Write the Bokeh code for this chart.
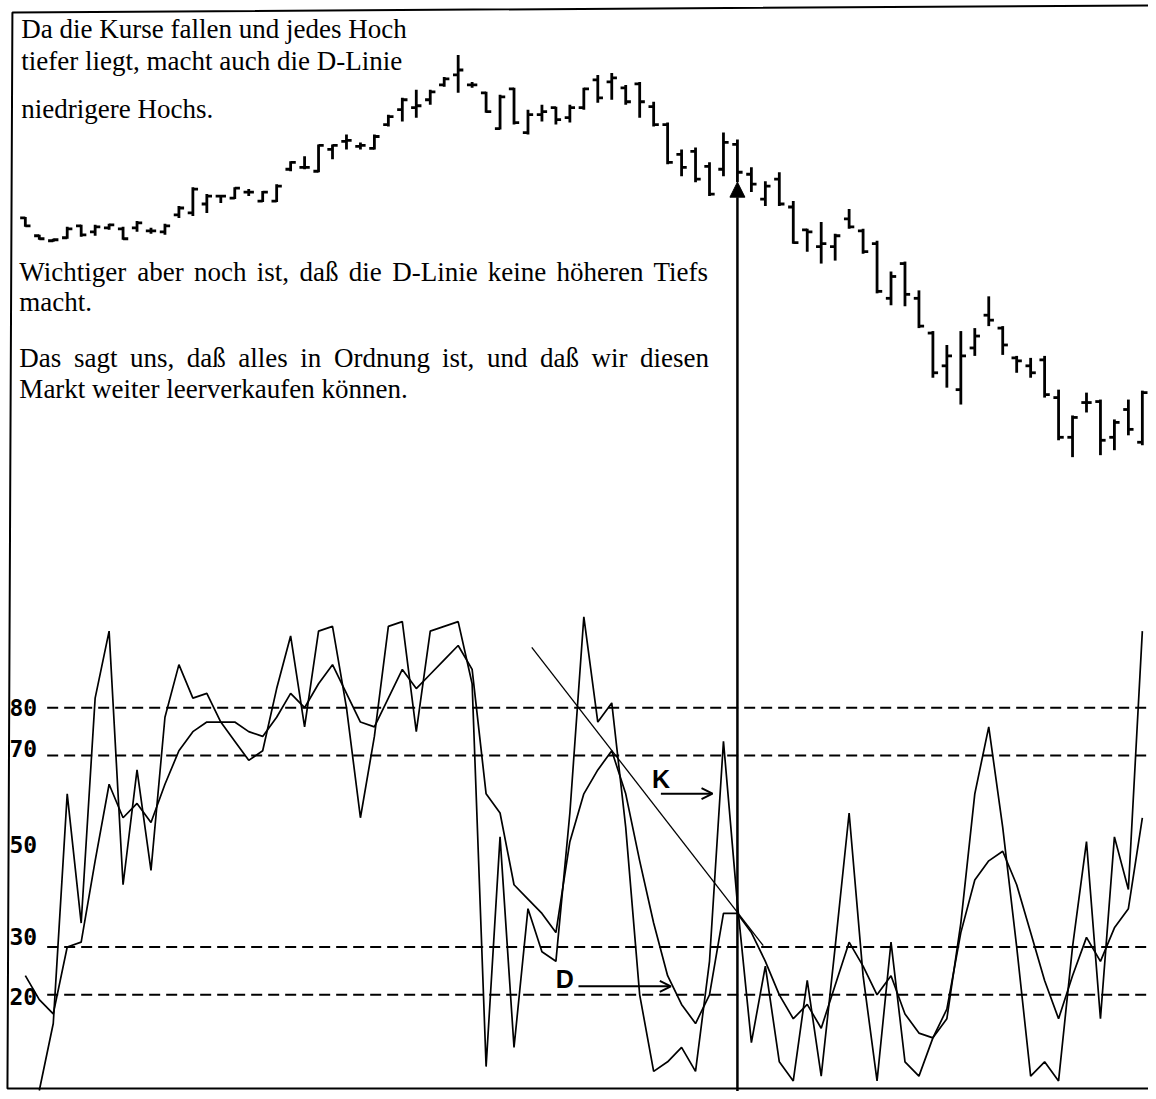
import math
from bokeh.plotting import figure
from bokeh.models import Range1d, Label, Arrow, NormalHead, OpenHead
from bokeh.core.properties import value
from bokeh.embed import file_html
from bokeh.resources import INLINE

nan = float("nan")

# ---------------- data ----------------
days = list(range(81))

high = [282, 264, 260, 272, 274, 274, 275, 272, 278, 271, 275, 293, 312, 305, 304, 312, 310, 308, 315, 338,
        343, 355, 355, 365, 357, 365, 385, 402, 410, 410, 423, 445, 418, 408, 405, 412, 390, 395, 393, 395,
        412, 425, 427, 415, 418, 398, 377, 350, 352, 337, 367, 360, 332, 318, 327,
        298, 270, 277, 265, 290, 270, 258, 227, 237, 208, 167, 153, 167, 170, 202, 172, 142, 140, 142, 108,
        82, 105, 98, 78, 98, 107]
low = [272, 259, 257, 260, 262, 263, 269, 259, 267, 265, 264, 281, 283, 286, 296, 300, 303, 297, 297, 328,
       330, 327, 340, 350, 350, 350, 373, 378, 382, 395, 413, 407, 412, 387, 370, 375, 365, 378, 375, 377,
       390, 397, 400, 395, 382, 373, 335, 323, 317, 303, 323, 317, 307, 293, 293,
       255, 247, 235, 238, 270, 245, 205, 193, 192, 170, 120, 110, 93, 142, 172, 143, 125, 120, 100, 57,
       40, 85, 42, 47, 62, 52]
open_ = [281, 263, 258, 261, 273, 267, 271, 270, 271, 268, 267, 284, 286, 295, 303, 301, 307, 298, 298, 330,
         332, 328, 350, 358, 353, 351, 375, 390, 392, 400, 415, 425, 415, 407, 371, 411, 367, 385, 392, 382,
         392, 420, 418, 412, 416, 393, 375, 345, 348, 333, 330, 355, 325, 300, 320,
         292, 269, 252, 252, 280, 268, 255, 200, 235, 200, 165, 132, 108, 150, 183, 170, 140, 132, 138, 100,
         60, 95, 96, 60, 88, 55]
close = [273, 260, 259, 270, 264, 272, 274, 260, 276, 268, 273, 291, 310, 303, 303, 311, 307, 307, 313, 337,
         332, 354, 354, 359, 354, 363, 383, 400, 394, 408, 421, 430, 415, 388, 403, 377, 385, 388, 380, 392,
         411, 402, 422, 398, 398, 375, 337, 332, 320, 305, 357, 327, 315, 313, 295,
         256, 267, 255, 263, 272, 247, 207, 222, 204, 172, 125, 142, 142, 162, 178, 153, 137, 125, 103, 60,
         80, 95, 57, 75, 68, 105]

k_line = [nan, 0, 14, 62, 35, 82, 96, 43, 67, 46,
          78, 89, 82, 83, 77, 73, 69, 71, 84, 95,
          76, 96, 97, 80, 57, 74, 97, 98, 75, 96,
          97, 98, 85, 5, 53, 9, 38, 29, 27, 58,
          99, 77, 81, 55, 20, 4, 6, 9, 4, 27,
          73, 39, 10, 26, 6, 2, 23, 3, 30, 58,
          24, 2, 31, 6, 3, 11, 15, 35, 62, 76,
          55, 30, 3, 6, 2, 30, 52, 15, 53, 42, 96]
d_line = [24, 19, 16, 30, 31, 48, 64, 57, 60, 56,
          64, 71, 75, 77, 77, 77, 75, 74, 78, 83,
          80, 85, 89, 83, 77, 76, 82, 88, 84, 87,
          90, 93, 88, 62, 58, 43, 40, 37, 33, 52,
          62, 67, 71, 62, 48, 35, 24, 18, 14, 20,
          37, 37, 33, 27, 20, 15, 18, 13, 22, 31,
          26, 20, 24, 16, 12, 11, 17, 33, 44, 48,
          50, 43, 33, 23, 15, 24, 32, 27, 34, 38, 57]

levels = [80, 70, 30, 20]
level_labels = ["80", "70", "50", "30", "20"]
signal_day = 51
trend_days = [36.27, 52.85]
trend_vals = [92.6, 30.3]

top_lines = ["Da die Kurse fallen und jedes Hoch",
             "tiefer liegt, macht auch die D-Linie",
             "niedrigere Hochs."]
low_lines = ["Wichtiger aber noch ist, daß die D-Linie keine höheren Tiefs",
             "macht.",
             "Das sagt uns, daß alles in Ordnung ist, und daß wir diesen",
             "Markt weiter leerverkaufen können."]

# ---------------- layout helpers (reference pixel -> data units) ----------------
def ix(xref):
    return (xref - 25) / 14.06

def py(yref):
    return 500 - yref

def ov(yref):
    return (1098 - yref) / 4.82

W, H = 1148, 1091
x_range = Range1d(ix(0), ix(1156))
y_range = Range1d(ov(1099), ov(0))
price_range = Range1d(py(1099), py(0))

p = figure(width=W, height=H, x_range=x_range, y_range=y_range,
           output_backend="svg", toolbar_location=None,
           x_axis_type=None, y_axis_type=None, min_border=0)
p.extra_y_ranges = {"price": price_range}
p.grid.visible = False
p.outline_line_color = None
p.background_fill_color = "white"
p.border_fill_color = "white"

# frame (slightly skewed like the scanned page)
frame_x = [1156, 12, 7, 1156]
frame_y = [5, 12, 1096, 1096]
p.line([ix(v) for v in frame_x], [py(v) for v in frame_y], y_range_name="price",
       line_color="black", line_width=2)

# ---------------- price bars (OHLC) ----------------
tick = 0.37
p.segment(x0=days, x1=days, y0=low, y1=high, y_range_name="price",
          line_color="black", line_width=2.8)
p.segment(x0=[d - tick for d in days], x1=days, y0=open_, y1=open_, y_range_name="price",
          line_color="black", line_width=2.8)
p.segment(x0=days, x1=[d + tick for d in days], y0=close, y1=close, y_range_name="price",
          line_color="black", line_width=2.8)

# ---------------- oscillator ----------------
p.segment(x0=[ix(47)] * len(levels), x1=[x_range.end] * len(levels), y0=levels, y1=levels,
          line_color="black", line_width=2, line_dash="11 6")
p.line(days, d_line, line_color="black", line_width=1.7)
p.line(days, k_line, line_color="black", line_width=1.7)
p.line(trend_days, trend_vals, line_color="black", line_width=1.3)

label_y = [80, 71.5, 51.5, 32.2, 19.7]
p.text(x=[ix(9)] * len(level_labels), y=label_y, text=level_labels,
       text_font=value("DejaVu Sans Mono"), text_font_style="bold", text_font_size="23px",
       text_baseline="middle", text_align="left", text_color="black")

# signal arrow
p.add_layout(Arrow(end=NormalHead(size=15, fill_color="black", line_color="black", line_width=1),
                   x_start=signal_day, y_start=price_range.start,
                   x_end=signal_day, y_end=low[signal_day],
                   y_range_name="price", line_color="black", line_width=2.5))

# K and D marks
p.add_layout(Label(x=ix(656), y=ov(784), text="K", text_baseline="middle", text_color="black",
                   text_font="Liberation Sans", text_font_style="bold", text_font_size="25px"))
p.add_layout(Arrow(end=OpenHead(size=11, line_width=2, line_color="black"),
                   x_start=ix(665), y_start=ov(799), x_end=ix(717), y_end=ov(799),
                   line_color="black", line_width=2))
p.add_layout(Label(x=ix(559), y=ov(986), text="D", text_baseline="middle", text_color="black",
                   text_font="Liberation Sans", text_font_style="bold", text_font_size="25px"))
p.add_layout(Arrow(end=OpenHead(size=11, line_width=2, line_color="black"),
                   x_start=ix(582), y_start=ov(993), x_end=ix(675), y_end=ov(993),
                   line_color="black", line_width=2))

# ---------------- text ----------------
FS = 27
TNR = {' ': 250, ',': 250, '.': 250, '-': 333, 'a': 444, 'b': 500, 'c': 444, 'd': 500, 'e': 444,
       'f': 333, 'g': 500, 'h': 500, 'i': 278, 'j': 278, 'k': 500, 'l': 278, 'm': 778, 'n': 500,
       'o': 500, 'r': 333, 's': 389, 't': 278, 'u': 500, 'v': 500, 'w': 722, 'ß': 500, 'ö': 500,
       'D': 722, 'L': 611, 'T': 611, 'W': 944, 'O': 722, 'M': 889, 'K': 722, 'H': 722}

def add_text(txt, xref, yref):
    p.add_layout(Label(x=ix(xref), y=py(yref), y_range_name="price", text=txt,
                       text_font="Liberation Serif", text_font_size=f"{FS}px",
                       text_baseline="alphabetic", text_color="black"))

def add_justified(txt, xl, xr, yref):
    words = txt.split(" ")
    widths = [sum(TNR.get(c, 500) for c in w) * FS / 1000 for w in words]
    gap = (xr - xl - sum(widths)) / (len(words) - 1)
    x = xl
    for w, wd in zip(words, widths):
        add_text(w, x, yref)
        x += wd + gap

for line, base in zip(top_lines, [29, 61, 109]):
    add_text(line, 21, base)

add_justified(low_lines[0], 19, 713, 273)
add_text(low_lines[1], 19, 304)
add_justified(low_lines[2], 19, 713, 360)
add_text(low_lines[3], 19, 391)

open("out.html", "w").write(file_html(p, INLINE))
